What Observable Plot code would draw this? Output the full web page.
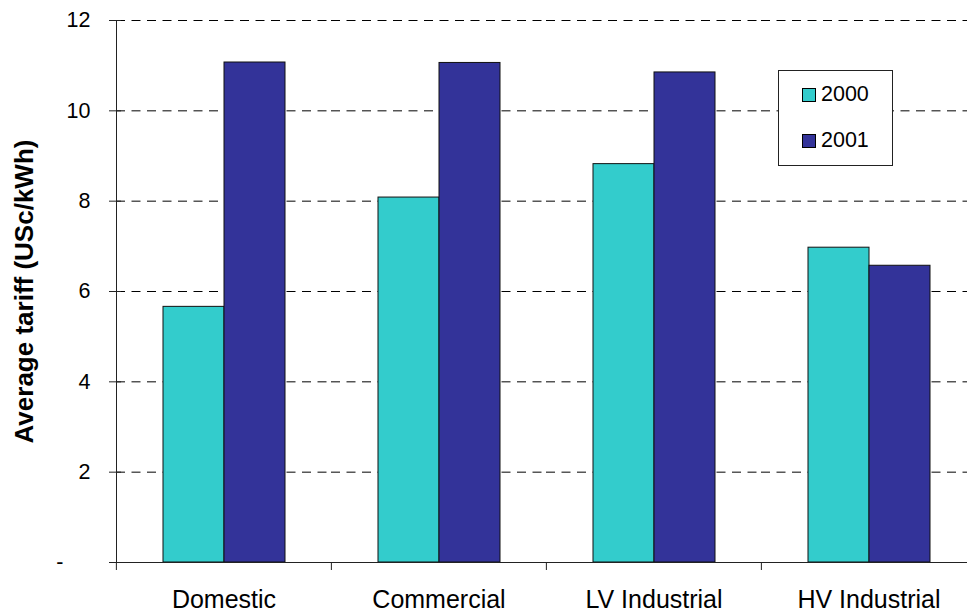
<!DOCTYPE html>
<html><head><meta charset="utf-8">
<script src="https://cdn.jsdelivr.net/npm/d3@7"></script>
<script src="https://cdn.jsdelivr.net/npm/@observablehq/plot@0.6"></script>
<style>
html,body{margin:0;padding:0;background:#fff;overflow:hidden}
#wrap{position:relative;width:967px;height:612px;font-family:"Liberation Sans",Arial,sans-serif;color:#000}
#legend{position:absolute;left:778px;top:70px;width:113px;height:94px;border:1px solid #222;background:#fff}
.row{position:absolute;left:23px;height:22px;display:flex;align-items:center;font-size:21.5px;line-height:1}
.sw{width:12px;height:12px;border:1px solid #000;margin-right:5px}
</style></head>
<body><div id="wrap"><div id="legend"></div></div>
<script>
const categories = ["Domestic", "Commercial", "LV Industrial", "HV Industrial"];
const years = ["2000", "2001"];
const values2000 = [5.66, 8.08, 8.82, 6.97];
const values2001 = [11.07, 11.06, 10.85, 6.57];
const yTicks = [0, 2, 4, 6, 8, 10, 12];
const colors = ["#33CCCC", "#333399"];
const yTitle = "Average tariff (USc/kWh)";

const data = categories.flatMap((c, i) => [
  {category: c, year: years[0], value: values2000[i]},
  {category: c, year: years[1], value: values2001[i]}
]);

const W = 967, H = 612, ML = 115, MR = -9, MT = 20, MB = 50;
const halfBand = (W - ML - MR) / categories.length / 2;
const font = "Liberation Sans, Arial, sans-serif";

const chart = Plot.plot({
  width: W, height: H,
  marginLeft: ML, marginRight: MR, marginTop: MT, marginBottom: MB,
  style: {fontFamily: font, background: "transparent", color: "#000", overflow: "visible"},
  fx: {domain: categories, padding: 0},
  x: {domain: years, paddingInner: 0, paddingOuter: 0.75, axis: null},
  y: {domain: [0, 12]},
  color: {domain: years, range: colors},
  marks: [
    Plot.gridY(yTicks.filter(d => d > 0), {stroke: "#000", strokeOpacity: 1, strokeDasharray: "9,6.5"}),
    Plot.barY(data, {fx: "category", x: "year", y: "value", fill: "year", stroke: "#111", strokeWidth: 1}),
    Plot.ruleY([0], {stroke: "#222"}),
    Plot.frame({anchor: "left", facetAnchor: "left", stroke: "#222"}),
    Plot.axisY({ticks: yTicks.filter(d => d > 0), tickSize: 12, dx: 5, tickPadding: 19, fontSize: 21.5, label: null, stroke: "#222"}),
    Plot.axisY({ticks: [0], tickSize: 12, dx: 5, tickPadding: 46, tickFormat: () => "-", fontSize: 21.5, label: null, stroke: "#222"}),
    Plot.axisFx({anchor: "bottom", tickSize: 8, tickFormat: () => "", dx: -halfBand, label: null, stroke: "#222"}),
    Plot.axisFx({anchor: "bottom", tickSize: 0, tickPadding: 28, fontSize: 25, label: null}),
    Plot.text([yTitle], {frameAnchor: "left", facetAnchor: "left", rotate: -90, textAnchor: "middle", lineAnchor: "middle", dx: -91.5, fontSize: 26, fontWeight: "bold", fill: "#000"})
  ]
});
document.getElementById("wrap").prepend(chart);

const legend = document.getElementById("legend");
const rowTops = [12.5, 59];
years.forEach((yr, i) => {
  const row = document.createElement("div");
  row.className = "row";
  row.style.top = rowTops[i] + "px";
  const sw = document.createElement("div");
  sw.className = "sw";
  sw.style.background = colors[i];
  const t = document.createElement("span");
  t.textContent = yr;
  row.append(sw, t);
  legend.append(row);
});
</script>
</body></html>
